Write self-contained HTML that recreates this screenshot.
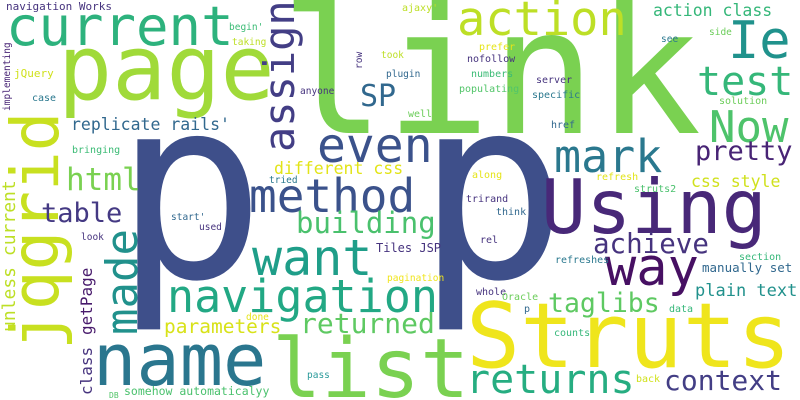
<!DOCTYPE html>
<html><head><meta charset="utf-8"><style>
html,body{margin:0;padding:0;background:#fff;}
svg{display:block;}
text{font-family:"DejaVu Sans Mono","Liberation Mono",monospace;}
</style></head><body>
<svg width="800" height="400" viewBox="0 0 800 400">
<rect width="800" height="400" fill="#fff"/>
<text x="280" y="133" font-size="175" fill="#7ad151">link</text>
<text x="114" y="277" font-size="252" fill="#3e4f8a">p</text>
<text x="416" y="277" font-size="252" fill="#3e4f8a">p</text>
<text x="6" y="10" font-size="11" fill="#46337e">navigation Works</text>
<text x="6" y="45" font-size="54" fill="#2db27d">current</text>
<text x="58" y="99" font-size="90" fill="#a0da39">page</text>
<text transform="translate(294,152) rotate(-90)" font-size="42" fill="#433e85">assign</text>
<text x="360" y="106" font-size="30" fill="#31688e">SP</text>
<text x="71" y="130" font-size="16.5" fill="#31688e">replicate rails'</text>
<text transform="translate(58,350) rotate(-90)" font-size="66" fill="#c8e020">jqgrid</text>
<text transform="translate(15,332) rotate(-90)" font-size="18" fill="#bddf26">unless current</text>
<text x="14" y="77" font-size="11" fill="#d0e11c">jQuery</text>
<text transform="translate(10,111) rotate(-90)" font-size="9.5" fill="#482475">implementing</text>
<text x="32" y="101" font-size="10" fill="#2a788e">case</text>
<text x="72" y="153" font-size="10" fill="#3bbb75">bringing</text>
<text x="66" y="190" font-size="31" fill="#7ad151">html</text>
<text x="274" y="174" font-size="16.5" fill="#e2e418">different css</text>
<text x="269" y="183" font-size="9.5" fill="#2a788e">tried</text>
<text x="229" y="30" font-size="9.5" fill="#3bbb75">begin'</text>
<text x="232" y="45" font-size="9.5" fill="#bddf26">taking</text>
<text x="381" y="58" font-size="9.5" fill="#bddf26">took</text>
<text transform="translate(362,69) rotate(-90)" font-size="9.5" fill="#46337e">row</text>
<text x="386" y="77" font-size="9.5" fill="#31688e">plugin</text>
<text x="300" y="94" font-size="9.5" fill="#46337e">anyone</text>
<text x="317" y="162" font-size="48" fill="#3b528b">even</text>
<text x="249" y="212" font-size="46" fill="#3b528b">method</text>
<text x="296" y="233" font-size="29" fill="#4ac16d">building</text>
<text x="376" y="252" font-size="12" fill="#46337e">Tiles JSP</text>
<text x="171" y="220" font-size="9.5" fill="#31688e">start'</text>
<text x="199" y="230" font-size="9.5" fill="#46337e">used</text>
<text x="252" y="275" font-size="50" fill="#1f9e89">want</text>
<text x="167" y="312" font-size="45" fill="#22a884">navigation</text>
<text x="387" y="281" font-size="9.5" fill="#f0e51c">pagination</text>
<text x="246" y="320" font-size="9.5" fill="#e5e419">done</text>
<text x="164" y="333" font-size="19.5" fill="#d8e219">parameters</text>
<text x="300" y="333" font-size="28" fill="#5ec962">returned</text>
<text transform="translate(137,335) rotate(-90)" font-size="44" fill="#21918c">made</text>
<text x="41" y="222" font-size="27" fill="#443983">table</text>
<text x="81" y="240" font-size="9.5" fill="#46337e">look</text>
<text transform="translate(92,335) rotate(-90)" font-size="16" fill="#481a6c">getPage</text>
<text transform="translate(92,395) rotate(-90)" font-size="16" fill="#46337e">class</text>
<text x="93" y="385" font-size="72" fill="#2a768e">name</text>
<text x="272" y="397" font-size="82" fill="#7ad151">list</text>
<text x="124" y="395" font-size="11.5" fill="#4ac16d">somehow automaticalyy</text>
<text x="109" y="398" font-size="8" fill="#52c569">DB</text>
<text x="307" y="378" font-size="9.5" fill="#2a9a9a">pass</text>
<text x="402" y="11" font-size="10" fill="#bddf26">ajaxy'</text>
<text x="457" y="35" font-size="47" fill="#bddf26">action</text>
<text x="653" y="16" font-size="16.5" fill="#35b779">action class</text>
<text x="728" y="58" font-size="52" fill="#20928c">Ie</text>
<text x="697" y="95" font-size="40" fill="#35b779">test</text>
<text x="709" y="142" font-size="44" fill="#4ec36b">Now</text>
<text x="695" y="160" font-size="27" fill="#482475">pretty</text>
<text x="554" y="172" font-size="45" fill="#2a788e">mark</text>
<text x="691" y="187" font-size="16.5" fill="#d0e11c">css style</text>
<text x="709" y="35" font-size="9.5" fill="#6ccd5a">side</text>
<text x="661" y="42" font-size="9.5" fill="#2a788e">see</text>
<text x="479" y="50" font-size="10" fill="#e5e419">prefer</text>
<text x="467" y="62" font-size="10" fill="#46337e">nofollow</text>
<text x="471" y="77" font-size="10" fill="#3bbb75">numbers</text>
<text x="536" y="83" font-size="10" fill="#46337e">server</text>
<text x="459" y="92" font-size="10" fill="#52c569">populating</text>
<text x="532" y="98" font-size="10" fill="#2a788e">specific</text>
<text x="719" y="104" font-size="10" fill="#6ccd5a">solution</text>
<text x="408" y="117" font-size="10" fill="#6ccd5a">well</text>
<text x="551" y="128" font-size="10" fill="#31688e">href</text>
<text x="472" y="178" font-size="10" fill="#e5e419">along</text>
<text x="596" y="180" font-size="10" fill="#e2e418">refresh</text>
<text x="634" y="192" font-size="10" fill="#4ac16d">struts2</text>
<text x="466" y="202" font-size="10" fill="#46337e">trirand</text>
<text x="541" y="233" font-size="75" fill="#482878">Using</text>
<text x="496" y="215" font-size="10" fill="#31688e">think</text>
<text x="480" y="243" font-size="10" fill="#46337e">rel</text>
<text x="593" y="253" font-size="27.5" fill="#46337e">achieve</text>
<text x="605" y="285" font-size="52" fill="#471063">way</text>
<text x="555" y="263" font-size="10" fill="#2a788e">refreshes</text>
<text x="739" y="260" font-size="10" fill="#35b779">section</text>
<text x="702" y="272" font-size="12.5" fill="#31688e">manually set</text>
<text x="695" y="296" font-size="17" fill="#21918c">plain text</text>
<text x="548" y="312" font-size="26.5" fill="#5ec962">taglibs</text>
<text x="476" y="295" font-size="10" fill="#46337e">whole</text>
<text x="502" y="300" font-size="10" fill="#6ccd5a">Oracle</text>
<text x="524" y="312" font-size="10" fill="#31688e">p</text>
<text x="669" y="312" font-size="10" fill="#35b779">data</text>
<text x="554" y="336" font-size="10" fill="#35b779">counts</text>
<text x="466" y="367" font-size="90" fill="#efe51c">Struts</text>
<text x="466" y="393" font-size="40" fill="#26ad81">returns</text>
<text x="664" y="390" font-size="28" fill="#433e85">context</text>
<text x="636" y="382" font-size="10" fill="#d0e11c">back</text>
</svg>
</body></html>
